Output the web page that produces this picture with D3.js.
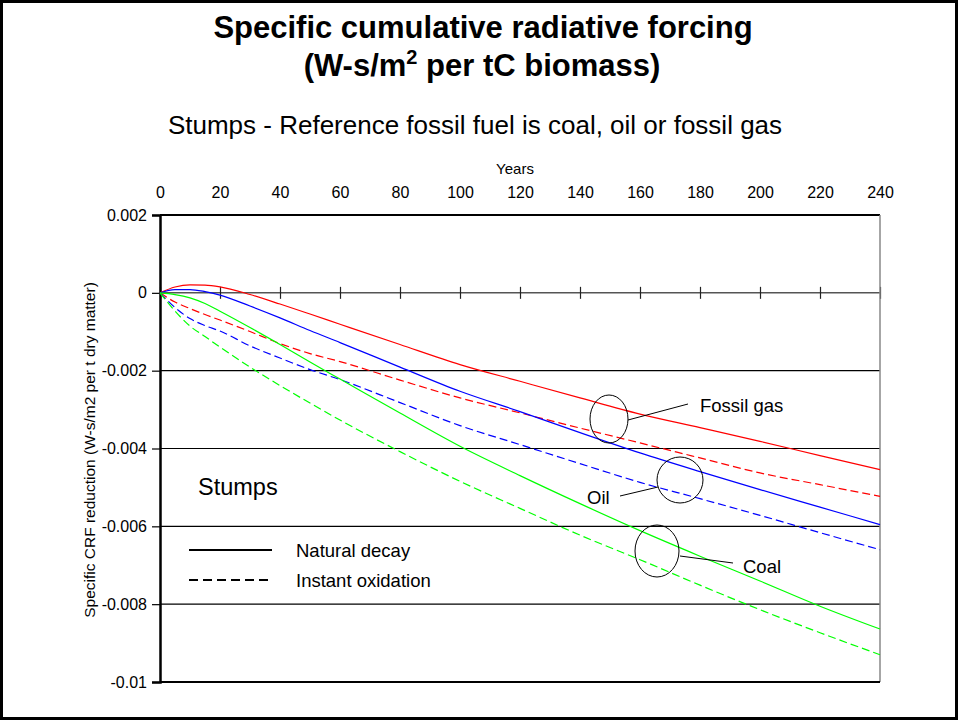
<!DOCTYPE html>
<html>
<head>
<meta charset="utf-8">
<script src="https://cdn.jsdelivr.net/npm/d3@7"></script>
<style>
  body { margin: 0; background: #fff; }
  text { font-family: "Liberation Sans", Arial, sans-serif; fill: #000; }
</style>
</head>
<body>
<script>
// years on the x-axis
var years = [0, 5, 10, 15, 20, 30, 40, 50, 60, 80, 100, 120, 140, 160, 180, 200, 220, 240];

// specific CRF reduction per series
var gasNatural  = [0, 0.000149, 0.000206, 0.0002, 0.000154, -0.000044, -0.000288, -0.000545, -0.000807, -0.001329, -0.001843, -0.002273, -0.0027, -0.003116, -0.003463, -0.003815, -0.004183, -0.004543];
var gasInstant  = [0, -0.000237, -0.000404, -0.000558, -0.000699, -0.000995, -0.001304, -0.001561, -0.001766, -0.002242, -0.0027, -0.003085, -0.003476, -0.003857, -0.004242, -0.004628, -0.004929, -0.005229];
var oilNatural  = [0, 0.000085, 0.000085, 0.000033, -0.000057, -0.000339, -0.000643, -0.000969, -0.001278, -0.001908, -0.00253, -0.003052, -0.003592, -0.004114, -0.004594, -0.005057, -0.005507, -0.005957];
var oilInstant  = [0, -0.000378, -0.000661, -0.000841, -0.000982, -0.001363, -0.001676, -0.001972, -0.002229, -0.00282, -0.003412, -0.0039, -0.004389, -0.00487, -0.005289, -0.005718, -0.006163, -0.0066];
var coalNatural = [0, -0.000044, -0.000129, -0.000275, -0.000473, -0.000892, -0.001329, -0.001779, -0.002216, -0.00309, -0.003944, -0.004697, -0.005417, -0.006111, -0.006767, -0.007404, -0.008052, -0.008639];
var coalInstant = [0, -0.000468, -0.000854, -0.001124, -0.001393, -0.001908, -0.002383, -0.002833, -0.00327, -0.00408, -0.004844, -0.005538, -0.006227, -0.006857, -0.007512, -0.008142, -0.008734, -0.009299];

// tick values
var xTicks = [0, 20, 40, 60, 80, 100, 120, 140, 160, 180, 200, 220, 240];
var yTicks = [0.002, 0, -0.002, -0.004, -0.006, -0.008, -0.01];

// annotation labels for the three fuels
var fuelLabels = ["Fossil gas", "Oil", "Coal"];
var legendLabels = ["Natural decay", "Instant oxidation"];

// defines the size of the SVG
var width = 958;
var height = 720;

// plot area
var pad = { top: 215, bottom: 682, left: 160, right: 880 };

var svg = d3.select("body")
            .append("svg")
            .attr("width", width)
            .attr("height", height);

// outer frame
svg.append("rect")
   .attr("x", 1.5).attr("y", 1.5)
   .attr("width", width - 3).attr("height", height - 3)
   .attr("fill", "#fff")
   .attr("stroke", "#000")
   .attr("stroke-width", 3);

// titles
svg.append("text")
   .attr("x", 483).attr("y", 38)
   .attr("text-anchor", "middle")
   .style("font-size", "31px").style("font-weight", "bold")
   .text("Specific cumulative radiative forcing");

var t2 = svg.append("text")
   .attr("x", 482).attr("y", 76)
   .attr("text-anchor", "middle")
   .style("font-size", "31px").style("font-weight", "bold");
t2.append("tspan").text("(W-s/m");
t2.append("tspan").attr("dy", -12).style("font-size", "20px").text("2");
t2.append("tspan").attr("dy", 12).text(" per tC biomass)");

svg.append("text")
   .attr("x", 475).attr("y", 134)
   .attr("text-anchor", "middle")
   .style("font-size", "26px")
   .text("Stumps - Reference fossil fuel is coal, oil or fossil gas");

// scales
var xScale = d3.scaleLinear()
               .domain([0, 240])
               .range([pad.left, pad.right]);
var yScale = d3.scaleLinear()
               .domain([-0.01, 0.002])
               .range([pad.bottom, pad.top]);

// horizontal gridlines
svg.append("g")
   .selectAll("line")
   .data([-0.002, -0.004, -0.006, -0.008])
   .enter()
   .append("line")
   .attr("x1", pad.left).attr("x2", pad.right)
   .attr("y1", function(d){ return yScale(d); })
   .attr("y2", function(d){ return yScale(d); })
   .attr("stroke", "#000")
   .attr("stroke-width", 1.2);

// zero line
svg.append("line")
   .attr("x1", pad.left).attr("x2", pad.right)
   .attr("y1", yScale(0)).attr("y2", yScale(0))
   .attr("stroke", "#555")
   .attr("stroke-width", 1.5);

// ticks crossing the zero line
var zeroTicks = d3.axisBottom(xScale)
                  .tickValues(xTicks)
                  .tickSize(12)
                  .tickFormat("");
svg.append("g")
   .attr("transform", "translate(0," + (yScale(0) - 6) + ")")
   .call(zeroTicks)
   .call(function(g){ g.select(".domain").remove(); })
   .selectAll("line").attr("stroke", "#222").attr("stroke-width", 1.2);

// plot border: top, right and bottom
svg.append("line")
   .attr("x1", pad.left).attr("x2", pad.right)
   .attr("y1", pad.top).attr("y2", pad.top)
   .attr("stroke", "#000").attr("stroke-width", 2);
svg.append("line")
   .attr("x1", pad.right).attr("x2", pad.right)
   .attr("y1", pad.top).attr("y2", pad.bottom)
   .attr("stroke", "#888").attr("stroke-width", 1.5);
svg.append("line")
   .attr("x1", pad.left).attr("x2", pad.right)
   .attr("y1", pad.bottom).attr("y2", pad.bottom)
   .attr("stroke", "#000").attr("stroke-width", 2);

// x tick labels on top
var xAxis = d3.axisTop(xScale)
              .tickValues(xTicks)
              .tickSize(0)
              .tickPadding(17)
              .tickFormat(d3.format("d"));
svg.append("g")
   .attr("transform", "translate(0," + pad.top + ")")
   .call(xAxis)
   .call(function(g){ g.select(".domain").remove(); })
   .selectAll("text")
   .style("font-size", "16px")
   .style("font-family", "'Liberation Sans', Arial, sans-serif")
   .attr("fill", "#000");

svg.append("text")
   .attr("x", 515).attr("y", 174)
   .attr("text-anchor", "middle")
   .style("font-size", "15px")
   .text("Years");

// y axis
var yAxis = d3.axisLeft(yScale)
              .tickValues(yTicks)
              .tickSize(8)
              .tickPadding(5)
              .tickFormat(function(d){ return d === 0 ? "0" : String(+d.toFixed(3)); });
var yG = svg.append("g")
   .attr("transform", "translate(" + pad.left + ",0)")
   .call(yAxis);
yG.select(".domain").attr("stroke", "#000").attr("stroke-width", 2.5);
yG.selectAll("line").attr("stroke", "#000").attr("stroke-width", 1.2);
yG.selectAll("text")
  .style("font-size", "16px")
  .style("font-family", "'Liberation Sans', Arial, sans-serif")
  .attr("fill", "#000");

svg.append("text")
   .attr("transform", "translate(95,450) rotate(-90)")
   .attr("text-anchor", "middle")
   .style("font-size", "15.5px")
   .text("Specific CRF reduction (W-s/m2 per t dry matter)");

// series lines
var series = [
  { values: gasNatural,  colour: "#ff0000", dash: null },
  { values: gasInstant,  colour: "#ff0000", dash: "8,4" },
  { values: oilNatural,  colour: "#0000ff", dash: null },
  { values: oilInstant,  colour: "#0000ff", dash: "8,4" },
  { values: coalNatural, colour: "#00ff00", dash: null },
  { values: coalInstant, colour: "#00ff00", dash: "8,4" }
];

var line = d3.line()
             .x(function(d, i){ return xScale(years[i]); })
             .y(function(d){ return yScale(d); })
             .curve(d3.curveMonotoneX);

svg.append("g")
   .selectAll("path")
   .data(series)
   .enter()
   .append("path")
   .attr("d", function(s){ return line(s.values); })
   .attr("fill", "none")
   .attr("stroke", function(s){ return s.colour; })
   .attr("stroke-width", 1.2)
   .attr("stroke-dasharray", function(s){ return s.dash; });

// annotation circles, leaders and labels
var notes = [
  { label: fuelLabels[0], cx: 609, cy: 419, rx: 19, ry: 24, lx1: 628, ly1: 420, lx2: 688, ly2: 404, tx: 700, ty: 412 },
  { label: fuelLabels[1], cx: 680, cy: 480, rx: 23, ry: 23, lx1: 658, ly1: 487, lx2: 620, ly2: 496, tx: 587, ty: 504 },
  { label: fuelLabels[2], cx: 657, cy: 551, rx: 22, ry: 26, lx1: 680, ly1: 556, lx2: 733, ly2: 563, tx: 743, ty: 573 }
];

var noteG = svg.append("g");
notes.forEach(function(n){
  noteG.append("ellipse")
       .attr("cx", n.cx).attr("cy", n.cy)
       .attr("rx", n.rx).attr("ry", n.ry)
       .attr("fill", "none").attr("stroke", "#000").attr("stroke-width", 1);
  noteG.append("line")
       .attr("x1", n.lx1).attr("y1", n.ly1)
       .attr("x2", n.lx2).attr("y2", n.ly2)
       .attr("stroke", "#000").attr("stroke-width", 1);
  noteG.append("text")
       .attr("x", n.tx).attr("y", n.ty)
       .style("font-size", "18.5px")
       .text(n.label);
});

svg.append("text")
   .attr("x", 198).attr("y", 495)
   .style("font-size", "23.5px")
   .text("Stumps");

// legend
var legend = svg.append("g");
legendLabels.forEach(function(lab, i){
  var y = 550 + i * 30;
  legend.append("line")
        .attr("x1", 189).attr("x2", i === 0 ? 272 : 268)
        .attr("y1", y).attr("y2", y)
        .attr("stroke", "#000")
        .attr("stroke-width", 2)
        .attr("stroke-dasharray", i === 0 ? null : "9,5");
  legend.append("text")
        .attr("x", 296).attr("y", y + 7)
        .style("font-size", "18.5px")
        .text(lab);
});
</script>
</body>
</html>
